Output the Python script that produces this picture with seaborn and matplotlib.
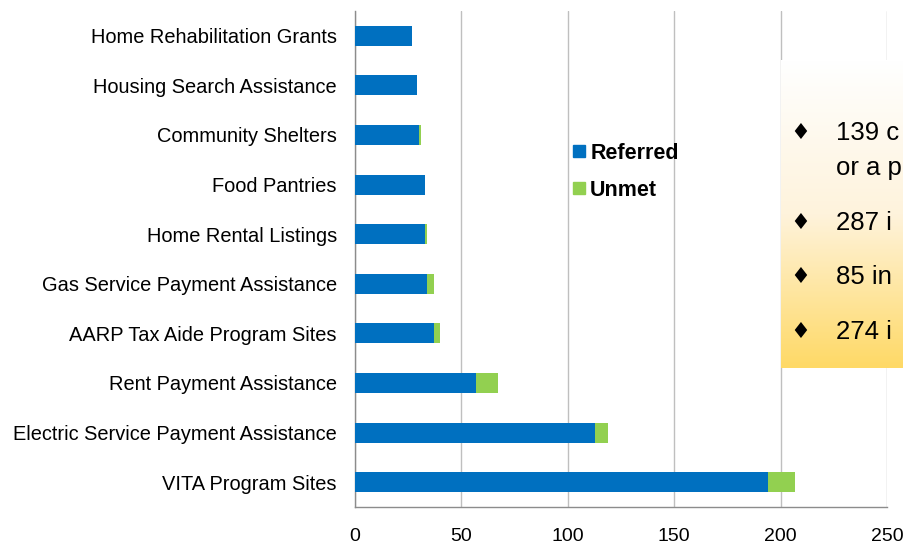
import matplotlib
matplotlib.use("Agg")
import matplotlib.pyplot as plt
import matplotlib.colors as mcolors
from matplotlib.lines import Line2D
import numpy as np
import pandas as pd
import seaborn as sns

# Service categories, top to bottom
services = ["Home Rehabilitation Grants", "Housing Search Assistance",
            "Community Shelters", "Food Pantries", "Home Rental Listings",
            "Gas Service Payment Assistance", "AARP Tax Aide Program Sites",
            "Rent Payment Assistance", "Electric Service Payment Assistance",
            "VITA Program Sites"]
referred = [27, 29, 30, 33, 33, 34, 37, 57, 113, 194]
unmet = [0, 0, 1, 0, 1, 3, 3, 10, 6, 13]

# Callout lines (cut off at the right edge in the original)
notes = ["139 c", "or a p", "287 i", "85 in", "274 i"]

BLUE = "#0070C0"
GREEN = "#92D050"

df = pd.DataFrame({"service": services, "Referred": referred, "Unmet": unmet})
df["total"] = df["Referred"] + df["Unmet"]

sns.set_style("white")
plt.rcParams["font.family"] = ["Liberation Sans", "DejaVu Sans"]
plt.rcParams["text.color"] = "black"
plt.rcParams["xtick.color"] = "black"
plt.rcParams["ytick.color"] = "black"

fig = plt.figure(figsize=(9.04, 5.46), dpi=100)
ax = fig.add_axes([355 / 904, 1 - 507 / 546, 532 / 904, 496 / 546])

# stacked bars: total (green) behind, referred (blue) in front
sns.barplot(data=df, x="total", y="service", color=GREEN, width=0.4,
            linewidth=0, saturation=1, ax=ax, zorder=3)
sns.barplot(data=df, x="Referred", y="service", color=BLUE, width=0.4,
            linewidth=0, saturation=1, ax=ax, zorder=3)

ax.set_xlim(0, 250)
ax.set_ylim(9.5, -0.5)
ax.set_xticks([0, 50, 100, 150, 200, 250])
ax.set_xlabel("")
ax.set_ylabel("")
ax.grid(axis="x", color="#BFBFBF", linewidth=1, zorder=0)
ax.set_axisbelow(True)

for side in ["top", "right"]:
    ax.spines[side].set_visible(False)
for side in ["left", "bottom"]:
    ax.spines[side].set_color("#8C8C8C")
    ax.spines[side].set_linewidth(1)

# Excel-like tick marks between categories
ax.set_yticks(np.arange(-0.5, 10, 1), minor=True)
ax.tick_params(axis="y", which="major", length=0, labelsize=14.4, pad=13,
               labelcolor="black")
ax.tick_params(axis="y", which="minor", length=5, color="#8C8C8C", width=1)
ax.tick_params(axis="x", which="major", length=5, color="#8C8C8C", width=1,
               labelsize=14, pad=10, labelcolor="black")

# legend
handles = [Line2D([], [], marker="s", linestyle="", color=BLUE, markersize=8),
           Line2D([], [], marker="s", linestyle="", color=GREEN, markersize=8)]
fig.legend(handles, ["Referred", "Unmet"], loc="upper left",
           bbox_to_anchor=(560 / 904, 1 - 134 / 546), frameon=False,
           prop={"weight": "bold", "size": 15.5}, handletextpad=0.0,
           labelspacing=0.75, handlelength=1.0, borderaxespad=0)

# yellow callout box with a vertical gradient
bx = fig.add_axes([781 / 904, 1 - 368 / 546, 0.2, 308 / 546], zorder=5)
cmap = mcolors.LinearSegmentedColormap.from_list(
    "callout", ["#FFFFFF", "#FEF3DC", "#FFD966"])
grad = np.linspace(0, 1, 256).reshape(-1, 1)
bx.imshow(grad, aspect="auto", cmap=cmap, extent=[0, 1, 1, 0])
bx.set_axis_off()

note_y = [133, 168, 223, 277, 332]
for i, (txt, yy) in enumerate(zip(notes, note_y)):
    if i != 1:
        fig.text(800 / 904, 1 - yy / 546, "\u2666", fontsize=16,
                 ha="center", va="center", zorder=6, color="black",
                 family=["DejaVu Sans"])
    fig.text(836 / 904, 1 - yy / 546, txt, fontsize=18.5, ha="left",
             va="center", zorder=6, color="black")

fig.savefig("out.png", dpi=100)
